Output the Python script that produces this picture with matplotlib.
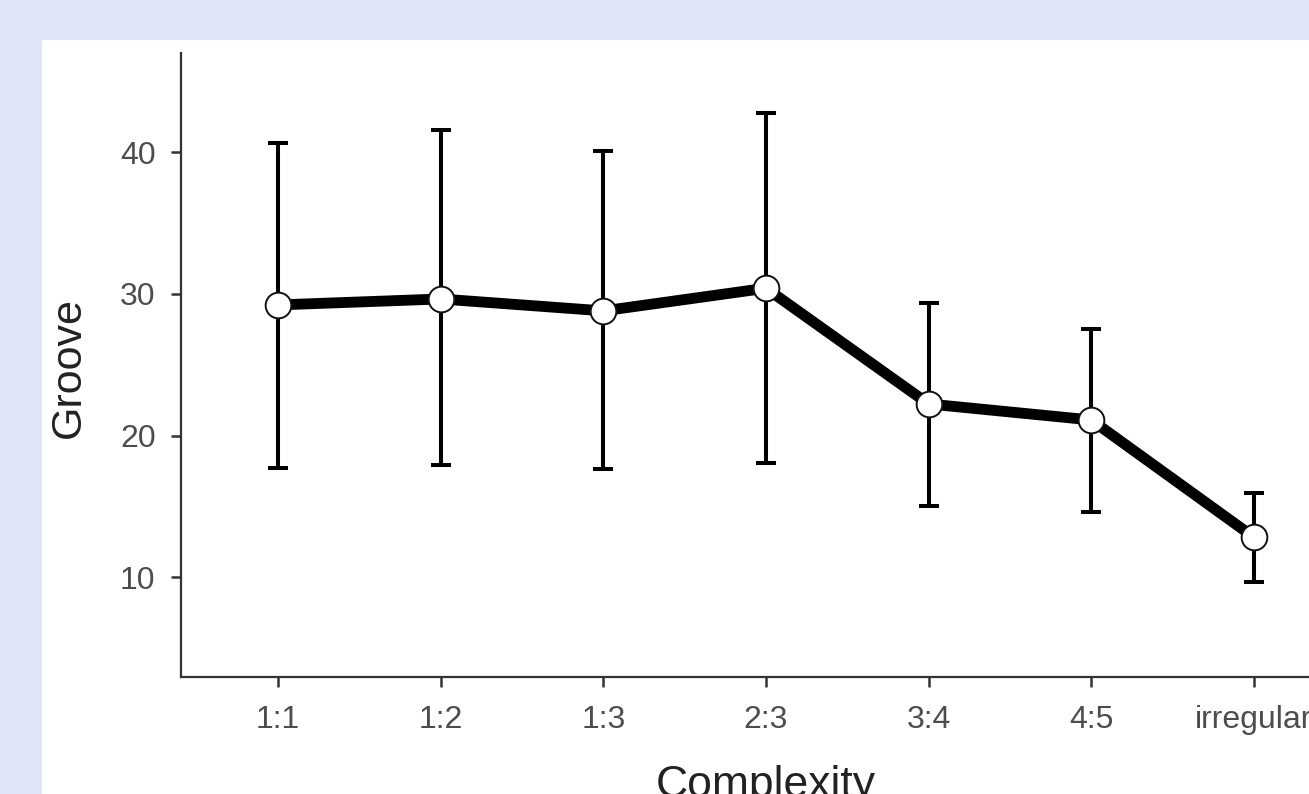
import matplotlib
matplotlib.use("Agg")
import matplotlib.pyplot as plt
from matplotlib.patches import Rectangle

plt.rcParams['font.family'] = ['Liberation Sans', 'DejaVu Sans']

categories = ['1:1', '1:2', '1:3', '2:3', '3:4', '4:5', 'irregular']
means = [29.22, 29.64, 28.80, 30.40, 22.23, 21.10, 12.82]
upper = [40.68, 41.57, 40.09, 42.75, 29.38, 27.51, 15.93]
lower = [17.74, 17.93, 17.65, 18.07, 15.03, 14.63, 9.65]
y_ticks = [10, 20, 30, 40]

W, H = 1309, 794
fig = plt.figure(figsize=(W / 100, H / 100), dpi=100)
fig.patch.set_facecolor('#dfe5f6')
# white panel, runs off the right and bottom edges
fig.patches.append(Rectangle((42 / W, 0), 1, 1 - 40 / H, transform=fig.transFigure,
                             facecolor='white', edgecolor='none', zorder=-10))

left, right = 180.5, 1351.5
top, bottom = 53, 677
ax = fig.add_axes([left / W, 1 - bottom / H, (right - left) / W, (bottom - top) / H])
ax.set_facecolor('none')

x = list(range(len(categories)))
err_lo = [m - l for m, l in zip(means, lower)]
err_hi = [u - m for m, u in zip(means, upper)]

ax.errorbar(x, means, yerr=[err_lo, err_hi], fmt='none', ecolor='black',
            elinewidth=2.9, capsize=7.5, capthick=2.9, zorder=2)
ax.plot(x, means, color='black', lw=7.8, solid_capstyle='butt', zorder=3)
ax.plot(x, means, 'o', ms=18.5, mfc='white', mec='#111111', mew=1.4, zorder=4)

ax.set_xlim(-0.6, 6.6)
ax.set_ylim(2.96, 47.0)
ax.set_xticks(x)
ax.set_xticklabels(categories)
ax.set_yticks(y_ticks)

for s in ['top', 'right']:
    ax.spines[s].set_visible(False)
for s in ['left', 'bottom']:
    ax.spines[s].set_color('#333333')
    ax.spines[s].set_linewidth(1.6)

ax.tick_params(axis='both', length=7, width=1.8, color='#333333',
               labelsize=23, labelcolor='#4d4d4d')
ax.tick_params(axis='x', pad=13)
ax.tick_params(axis='y', pad=11)

ax.set_xlabel('Complexity', fontsize=32, color='#222222')
ax.set_ylabel('Groove', fontsize=31, color='#222222')
ax.xaxis.set_label_coords((766 - left) / (right - left), -(786 - bottom) / (bottom - top))
ax.yaxis.set_label_coords(-(left - 69) / (right - left), (bottom - 367) / (bottom - top))
ax.xaxis.label.set_va('center')
ax.yaxis.label.set_va('center')

fig.savefig('out.png', dpi=100, facecolor=fig.get_facecolor())
